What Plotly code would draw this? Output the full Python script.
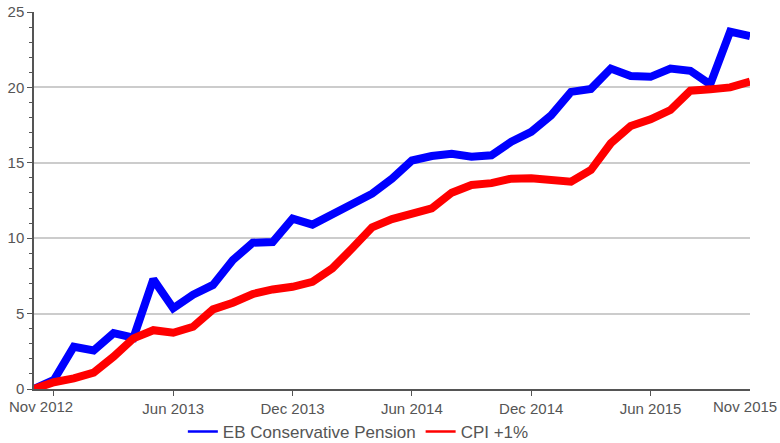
import plotly.graph_objects as go

# 37 observation points; labelled periods at selected points
period_index = list(range(37))
tick_positions = [1, 7, 13, 19, 25, 31, 36]
tick_labels = ["Nov 2012", "Jun 2013", "Dec 2013", "Jun 2014", "Dec 2014", "Jun 2015", "Nov 2015"]

eb_pension = [0.0, 0.6, 2.8, 2.55, 3.7, 3.4, 7.27, 5.35, 6.25, 6.9, 8.55, 9.7, 9.75, 11.3,
              10.9, 11.6, 12.3, 12.95, 13.95, 15.15, 15.45, 15.6, 15.4, 15.5, 16.4, 17.05,
              18.15, 19.7, 19.9, 21.25, 20.75, 20.7, 21.25, 21.1, 20.2, 23.7, 23.4]
cpi_plus1 = [0.0, 0.45, 0.7, 1.08, 2.14, 3.36, 3.9, 3.73, 4.13, 5.28, 5.72, 6.3, 6.6, 6.78,
             7.11, 8.0, 9.33, 10.72, 11.27, 11.6, 11.98, 13.02, 13.53, 13.65, 13.95, 13.97,
             13.9, 13.75, 14.52, 16.29, 17.44, 17.88, 18.5, 19.78, 19.87, 20.0, 20.38]

y_ticks = [0, 5, 10, 15, 20, 25]

series_names = ["EB Conservative Pension", "CPI +1%"]
series_colors = ["#0000ff", "#ff0000"]

font_family = "Liberation Sans, Arial, sans-serif"
grey = "#555555"

fig = go.Figure()
for name, vals, col in zip(series_names, [eb_pension, cpi_plus1], series_colors):
    fig.add_trace(go.Scatter(x=period_index[:len(vals)], y=vals, mode="lines", name=name,
                             line=dict(color=col, width=8), showlegend=False))
    fig.add_trace(go.Scatter(x=[None], y=[None], mode="lines", name=name,
                             line=dict(color=col, width=2.5)))

# end labels are nudged inward so they stay inside the chart
shown_ticktext = [""] + tick_labels[1:-1]
fig.add_annotation(text=tick_labels[0], xref="paper", yref="paper", x=0, y=0,
                   xanchor="left", yanchor="top", xshift=-27, yshift=-7,
                   showarrow=False, font=dict(size=15, color=grey))
fig.add_annotation(text=tick_labels[-1], xref="paper", yref="paper", x=1, y=0,
                   xanchor="right", yanchor="top", xshift=29, yshift=-7,
                   showarrow=False, font=dict(size=15, color=grey))

fig.update_layout(
    width=780, height=443,
    margin=dict(l=34, r=30, t=12, b=54, autoexpand=False),
    paper_bgcolor="white", plot_bgcolor="white",
    font=dict(family=font_family, size=15, color=grey),
    showlegend=True,
    legend=dict(orientation="h", x=0.453, xanchor="center", y=-0.114, yanchor="middle",
                font=dict(size=17, color=grey), itemwidth=30,
                bgcolor="rgba(0,0,0,0)"),
    xaxis=dict(range=[0, 36], tickmode="array", tickvals=tick_positions[:-1],
               ticktext=shown_ticktext, automargin=False,
               showgrid=False, showline=True, linecolor=grey, linewidth=1.5,
               ticks="outside", ticklen=5, tickcolor=grey, zeroline=False,
               tickfont=dict(size=15, color=grey)),
    yaxis=dict(range=[0, 25], tickmode="array", tickvals=y_ticks, automargin=False,
               ticklabeloverflow="allow",
               showgrid=True, gridcolor="#cccccc", gridwidth=1.5,
               showline=True, linecolor=grey, linewidth=1.5,
               ticks="outside", ticklen=5, tickcolor=grey, zeroline=False,
               minor=dict(dtick=1, ticks="outside", ticklen=3, tickcolor=grey,
                          showgrid=False),
               tickfont=dict(size=15, color=grey)),
)

fig.write_html("out.html", config={"displayModeBar": False},
               post_script="document.body.style.margin='0';document.body.style.overflow='hidden';")
